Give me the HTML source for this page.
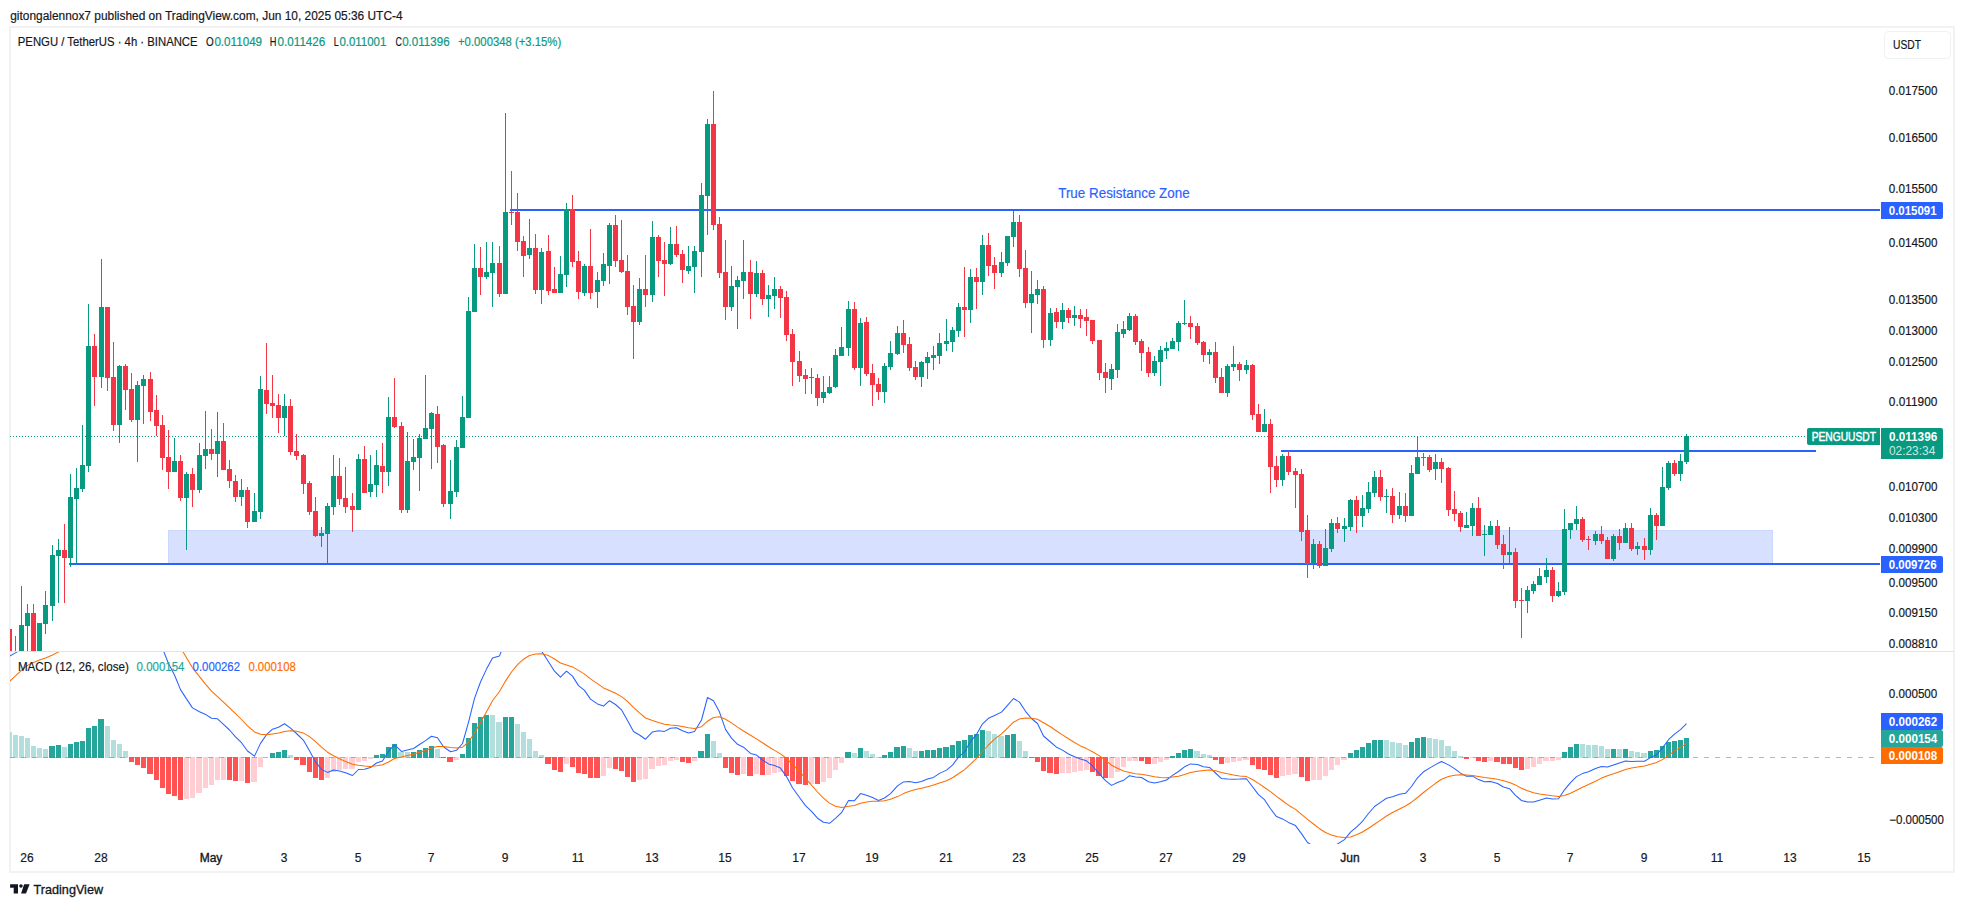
<!DOCTYPE html><html><head><meta charset="utf-8"><title>PENGU chart</title>
<style>html,body{margin:0;padding:0;background:#fff}body{width:1964px;height:907px;overflow:hidden}svg{display:block}text{font-family:"Liberation Sans",sans-serif}</style></head><body>
<svg width="1964" height="907" viewBox="0 0 1964 907">
<defs><clipPath id="p1"><rect x="10" y="28" width="1871" height="623"/></clipPath><clipPath id="p2"><rect x="10" y="652" width="1871" height="192"/></clipPath></defs>
<rect width="1964" height="907" fill="#fff"/>
<g shape-rendering="crispEdges" fill="#f2f2f4">
<rect x="9" y="26" width="1946" height="2"/>
<rect x="9" y="26" width="2" height="847"/>
<rect x="1953" y="26" width="2" height="847"/>
<rect x="9" y="871" width="1946" height="2"/>
</g>
<rect x="10" y="651" width="1944" height="1" fill="#e0e3eb" shape-rendering="crispEdges"/>
<g clip-path="url(#p1)">
<rect x="168" y="530" width="1605" height="34" fill="#2962ff" fill-opacity="0.19" shape-rendering="crispEdges"/>
<rect x="168.5" y="530.5" width="1604" height="33" fill="none" stroke="#2962ff" stroke-opacity="0.08" shape-rendering="crispEdges"/>
<line x1="10" y1="436.5" x2="1807" y2="436.5" stroke="#089981" stroke-width="1" stroke-dasharray="1 2" shape-rendering="crispEdges"/>
<g fill="#2962ff" shape-rendering="crispEdges">
<rect x="510" y="209" width="1370" height="2"/>
<rect x="69" y="563" width="1811" height="2"/>
<rect x="1281" y="450" width="535" height="2"/>
</g>
<g shape-rendering="crispEdges">
<rect x="10" y="629" width="2" height="31" fill="#f23645"/>
<rect x="15" y="636" width="1" height="24" fill="#f23645"/>
<rect x="21" y="586" width="1" height="74" fill="#089981"/>
<rect x="19" y="625" width="5" height="35" fill="#089981"/>
<rect x="27" y="604" width="1" height="47" fill="#089981"/>
<rect x="25" y="613" width="5" height="13" fill="#089981"/>
<rect x="33" y="604" width="1" height="56" fill="#f23645"/>
<rect x="31" y="613" width="5" height="47" fill="#f23645"/>
<rect x="39" y="623" width="1" height="37" fill="#089981"/>
<rect x="37" y="623" width="5" height="37" fill="#089981"/>
<rect x="45" y="591" width="1" height="43" fill="#089981"/>
<rect x="43" y="605" width="5" height="19" fill="#089981"/>
<rect x="52" y="545" width="1" height="76" fill="#089981"/>
<rect x="50" y="555" width="5" height="51" fill="#089981"/>
<rect x="58" y="539" width="1" height="64" fill="#089981"/>
<rect x="56" y="550" width="5" height="6" fill="#089981"/>
<rect x="64" y="524" width="1" height="79" fill="#f23645"/>
<rect x="62" y="550" width="5" height="8" fill="#f23645"/>
<rect x="70" y="474" width="1" height="93" fill="#089981"/>
<rect x="68" y="497" width="5" height="61" fill="#089981"/>
<rect x="76" y="468" width="1" height="95" fill="#089981"/>
<rect x="74" y="488" width="5" height="11" fill="#089981"/>
<rect x="82" y="425" width="1" height="67" fill="#089981"/>
<rect x="80" y="465" width="5" height="24" fill="#089981"/>
<rect x="88" y="304" width="1" height="168" fill="#089981"/>
<rect x="86" y="346" width="5" height="120" fill="#089981"/>
<rect x="94" y="334" width="1" height="72" fill="#f23645"/>
<rect x="92" y="346" width="5" height="31" fill="#f23645"/>
<rect x="101" y="259" width="1" height="129" fill="#089981"/>
<rect x="99" y="307" width="5" height="70" fill="#089981"/>
<rect x="107" y="307" width="1" height="84" fill="#f23645"/>
<rect x="105" y="307" width="5" height="71" fill="#f23645"/>
<rect x="113" y="342" width="1" height="89" fill="#f23645"/>
<rect x="111" y="377" width="5" height="48" fill="#f23645"/>
<rect x="119" y="365" width="1" height="78" fill="#089981"/>
<rect x="117" y="366" width="5" height="59" fill="#089981"/>
<rect x="125" y="364" width="1" height="46" fill="#f23645"/>
<rect x="123" y="366" width="5" height="24" fill="#f23645"/>
<rect x="131" y="373" width="1" height="49" fill="#f23645"/>
<rect x="129" y="389" width="5" height="31" fill="#f23645"/>
<rect x="137" y="381" width="1" height="81" fill="#089981"/>
<rect x="135" y="385" width="5" height="35" fill="#089981"/>
<rect x="143" y="375" width="1" height="49" fill="#089981"/>
<rect x="141" y="379" width="5" height="7" fill="#089981"/>
<rect x="150" y="372" width="1" height="49" fill="#f23645"/>
<rect x="148" y="379" width="5" height="33" fill="#f23645"/>
<rect x="156" y="395" width="1" height="41" fill="#f23645"/>
<rect x="154" y="410" width="5" height="16" fill="#f23645"/>
<rect x="162" y="415" width="1" height="55" fill="#f23645"/>
<rect x="160" y="425" width="5" height="33" fill="#f23645"/>
<rect x="168" y="430" width="1" height="59" fill="#f23645"/>
<rect x="166" y="457" width="5" height="15" fill="#f23645"/>
<rect x="174" y="438" width="1" height="34" fill="#089981"/>
<rect x="172" y="461" width="5" height="11" fill="#089981"/>
<rect x="180" y="455" width="1" height="46" fill="#f23645"/>
<rect x="178" y="461" width="5" height="37" fill="#f23645"/>
<rect x="186" y="472" width="1" height="78" fill="#089981"/>
<rect x="184" y="474" width="5" height="24" fill="#089981"/>
<rect x="192" y="468" width="1" height="39" fill="#f23645"/>
<rect x="190" y="474" width="5" height="16" fill="#f23645"/>
<rect x="199" y="443" width="1" height="50" fill="#089981"/>
<rect x="197" y="455" width="5" height="35" fill="#089981"/>
<rect x="205" y="411" width="1" height="58" fill="#089981"/>
<rect x="203" y="449" width="5" height="7" fill="#089981"/>
<rect x="211" y="429" width="1" height="31" fill="#f23645"/>
<rect x="209" y="449" width="5" height="5" fill="#f23645"/>
<rect x="217" y="412" width="1" height="65" fill="#089981"/>
<rect x="215" y="441" width="5" height="13" fill="#089981"/>
<rect x="223" y="423" width="1" height="47" fill="#f23645"/>
<rect x="221" y="441" width="5" height="29" fill="#f23645"/>
<rect x="229" y="460" width="1" height="28" fill="#f23645"/>
<rect x="227" y="469" width="5" height="12" fill="#f23645"/>
<rect x="235" y="475" width="1" height="27" fill="#f23645"/>
<rect x="233" y="481" width="5" height="16" fill="#f23645"/>
<rect x="241" y="479" width="1" height="27" fill="#089981"/>
<rect x="239" y="490" width="5" height="7" fill="#089981"/>
<rect x="247" y="487" width="1" height="41" fill="#f23645"/>
<rect x="245" y="490" width="5" height="32" fill="#f23645"/>
<rect x="254" y="493" width="1" height="29" fill="#089981"/>
<rect x="252" y="511" width="5" height="11" fill="#089981"/>
<rect x="260" y="376" width="1" height="143" fill="#089981"/>
<rect x="258" y="389" width="5" height="123" fill="#089981"/>
<rect x="266" y="343" width="1" height="71" fill="#f23645"/>
<rect x="264" y="390" width="5" height="14" fill="#f23645"/>
<rect x="272" y="375" width="1" height="43" fill="#f23645"/>
<rect x="270" y="403" width="5" height="3" fill="#f23645"/>
<rect x="278" y="394" width="1" height="39" fill="#f23645"/>
<rect x="276" y="405" width="5" height="13" fill="#f23645"/>
<rect x="284" y="394" width="1" height="42" fill="#089981"/>
<rect x="282" y="406" width="5" height="12" fill="#089981"/>
<rect x="290" y="399" width="1" height="56" fill="#f23645"/>
<rect x="288" y="406" width="5" height="46" fill="#f23645"/>
<rect x="296" y="434" width="1" height="26" fill="#f23645"/>
<rect x="294" y="451" width="5" height="5" fill="#f23645"/>
<rect x="303" y="454" width="1" height="40" fill="#f23645"/>
<rect x="301" y="455" width="5" height="29" fill="#f23645"/>
<rect x="309" y="481" width="1" height="34" fill="#f23645"/>
<rect x="307" y="483" width="5" height="29" fill="#f23645"/>
<rect x="315" y="497" width="1" height="40" fill="#f23645"/>
<rect x="313" y="511" width="5" height="25" fill="#f23645"/>
<rect x="321" y="527" width="1" height="20" fill="#089981"/>
<rect x="319" y="533" width="5" height="3" fill="#089981"/>
<rect x="327" y="503" width="1" height="60" fill="#089981"/>
<rect x="325" y="506" width="5" height="28" fill="#089981"/>
<rect x="333" y="455" width="1" height="60" fill="#089981"/>
<rect x="331" y="476" width="5" height="31" fill="#089981"/>
<rect x="339" y="458" width="1" height="47" fill="#f23645"/>
<rect x="337" y="476" width="5" height="23" fill="#f23645"/>
<rect x="345" y="467" width="1" height="46" fill="#f23645"/>
<rect x="343" y="498" width="5" height="9" fill="#f23645"/>
<rect x="352" y="493" width="1" height="39" fill="#f23645"/>
<rect x="350" y="506" width="5" height="4" fill="#f23645"/>
<rect x="358" y="454" width="1" height="56" fill="#089981"/>
<rect x="356" y="459" width="5" height="51" fill="#089981"/>
<rect x="364" y="446" width="1" height="47" fill="#f23645"/>
<rect x="362" y="459" width="5" height="34" fill="#f23645"/>
<rect x="370" y="455" width="1" height="42" fill="#089981"/>
<rect x="368" y="484" width="5" height="8" fill="#089981"/>
<rect x="376" y="450" width="1" height="47" fill="#089981"/>
<rect x="374" y="465" width="5" height="20" fill="#089981"/>
<rect x="382" y="443" width="1" height="50" fill="#f23645"/>
<rect x="380" y="466" width="5" height="6" fill="#f23645"/>
<rect x="388" y="397" width="1" height="89" fill="#089981"/>
<rect x="386" y="417" width="5" height="55" fill="#089981"/>
<rect x="394" y="378" width="1" height="50" fill="#f23645"/>
<rect x="392" y="417" width="5" height="10" fill="#f23645"/>
<rect x="401" y="422" width="1" height="91" fill="#f23645"/>
<rect x="399" y="426" width="5" height="84" fill="#f23645"/>
<rect x="407" y="432" width="1" height="81" fill="#089981"/>
<rect x="405" y="461" width="5" height="49" fill="#089981"/>
<rect x="413" y="439" width="1" height="31" fill="#089981"/>
<rect x="411" y="457" width="5" height="5" fill="#089981"/>
<rect x="419" y="434" width="1" height="57" fill="#089981"/>
<rect x="417" y="438" width="5" height="20" fill="#089981"/>
<rect x="425" y="375" width="1" height="64" fill="#089981"/>
<rect x="423" y="428" width="5" height="11" fill="#089981"/>
<rect x="431" y="412" width="1" height="57" fill="#089981"/>
<rect x="429" y="413" width="5" height="16" fill="#089981"/>
<rect x="437" y="406" width="1" height="57" fill="#f23645"/>
<rect x="435" y="414" width="5" height="33" fill="#f23645"/>
<rect x="443" y="444" width="1" height="63" fill="#f23645"/>
<rect x="441" y="445" width="5" height="59" fill="#f23645"/>
<rect x="450" y="460" width="1" height="59" fill="#089981"/>
<rect x="448" y="491" width="5" height="13" fill="#089981"/>
<rect x="456" y="440" width="1" height="57" fill="#089981"/>
<rect x="454" y="447" width="5" height="45" fill="#089981"/>
<rect x="462" y="396" width="1" height="52" fill="#089981"/>
<rect x="460" y="417" width="5" height="31" fill="#089981"/>
<rect x="468" y="297" width="1" height="121" fill="#089981"/>
<rect x="466" y="311" width="5" height="107" fill="#089981"/>
<rect x="474" y="244" width="1" height="68" fill="#089981"/>
<rect x="472" y="268" width="5" height="44" fill="#089981"/>
<rect x="480" y="247" width="1" height="48" fill="#f23645"/>
<rect x="478" y="268" width="5" height="9" fill="#f23645"/>
<rect x="486" y="242" width="1" height="37" fill="#089981"/>
<rect x="484" y="272" width="5" height="5" fill="#089981"/>
<rect x="492" y="242" width="1" height="65" fill="#089981"/>
<rect x="490" y="263" width="5" height="10" fill="#089981"/>
<rect x="499" y="246" width="1" height="51" fill="#f23645"/>
<rect x="497" y="263" width="5" height="31" fill="#f23645"/>
<rect x="505" y="113" width="1" height="181" fill="#089981"/>
<rect x="503" y="212" width="5" height="82" fill="#089981"/>
<rect x="511" y="171" width="1" height="54" fill="#f23645"/>
<rect x="509" y="212" width="5" height="1" fill="#f23645"/>
<rect x="517" y="193" width="1" height="58" fill="#f23645"/>
<rect x="515" y="212" width="5" height="30" fill="#f23645"/>
<rect x="523" y="236" width="1" height="41" fill="#f23645"/>
<rect x="521" y="241" width="5" height="15" fill="#f23645"/>
<rect x="529" y="219" width="1" height="40" fill="#089981"/>
<rect x="527" y="248" width="5" height="7" fill="#089981"/>
<rect x="535" y="234" width="1" height="60" fill="#f23645"/>
<rect x="533" y="248" width="5" height="42" fill="#f23645"/>
<rect x="541" y="248" width="1" height="56" fill="#089981"/>
<rect x="539" y="252" width="5" height="38" fill="#089981"/>
<rect x="548" y="235" width="1" height="60" fill="#f23645"/>
<rect x="546" y="251" width="5" height="40" fill="#f23645"/>
<rect x="554" y="267" width="1" height="26" fill="#f23645"/>
<rect x="552" y="289" width="5" height="4" fill="#f23645"/>
<rect x="560" y="256" width="1" height="37" fill="#089981"/>
<rect x="558" y="274" width="5" height="19" fill="#089981"/>
<rect x="566" y="203" width="1" height="84" fill="#089981"/>
<rect x="564" y="209" width="5" height="66" fill="#089981"/>
<rect x="572" y="195" width="1" height="72" fill="#f23645"/>
<rect x="570" y="209" width="5" height="53" fill="#f23645"/>
<rect x="578" y="251" width="1" height="48" fill="#f23645"/>
<rect x="576" y="261" width="5" height="31" fill="#f23645"/>
<rect x="584" y="264" width="1" height="32" fill="#089981"/>
<rect x="582" y="266" width="5" height="27" fill="#089981"/>
<rect x="590" y="229" width="1" height="70" fill="#f23645"/>
<rect x="588" y="266" width="5" height="27" fill="#f23645"/>
<rect x="597" y="272" width="1" height="36" fill="#089981"/>
<rect x="595" y="280" width="5" height="12" fill="#089981"/>
<rect x="603" y="253" width="1" height="33" fill="#089981"/>
<rect x="601" y="264" width="5" height="17" fill="#089981"/>
<rect x="609" y="223" width="1" height="61" fill="#089981"/>
<rect x="607" y="225" width="5" height="41" fill="#089981"/>
<rect x="615" y="215" width="1" height="52" fill="#f23645"/>
<rect x="613" y="225" width="5" height="36" fill="#f23645"/>
<rect x="621" y="220" width="1" height="53" fill="#f23645"/>
<rect x="619" y="260" width="5" height="12" fill="#f23645"/>
<rect x="627" y="255" width="1" height="60" fill="#f23645"/>
<rect x="625" y="271" width="5" height="36" fill="#f23645"/>
<rect x="633" y="285" width="1" height="74" fill="#f23645"/>
<rect x="631" y="306" width="5" height="16" fill="#f23645"/>
<rect x="639" y="278" width="1" height="47" fill="#089981"/>
<rect x="637" y="289" width="5" height="33" fill="#089981"/>
<rect x="645" y="255" width="1" height="52" fill="#f23645"/>
<rect x="643" y="289" width="5" height="6" fill="#f23645"/>
<rect x="652" y="221" width="1" height="81" fill="#089981"/>
<rect x="650" y="237" width="5" height="58" fill="#089981"/>
<rect x="658" y="235" width="1" height="42" fill="#f23645"/>
<rect x="656" y="237" width="5" height="24" fill="#f23645"/>
<rect x="664" y="242" width="1" height="54" fill="#f23645"/>
<rect x="662" y="260" width="5" height="4" fill="#f23645"/>
<rect x="670" y="227" width="1" height="38" fill="#089981"/>
<rect x="668" y="244" width="5" height="20" fill="#089981"/>
<rect x="676" y="226" width="1" height="31" fill="#f23645"/>
<rect x="674" y="244" width="5" height="11" fill="#f23645"/>
<rect x="682" y="250" width="1" height="33" fill="#f23645"/>
<rect x="680" y="254" width="5" height="16" fill="#f23645"/>
<rect x="688" y="246" width="1" height="28" fill="#089981"/>
<rect x="686" y="266" width="5" height="5" fill="#089981"/>
<rect x="694" y="246" width="1" height="47" fill="#089981"/>
<rect x="692" y="251" width="5" height="16" fill="#089981"/>
<rect x="701" y="183" width="1" height="94" fill="#089981"/>
<rect x="699" y="195" width="5" height="57" fill="#089981"/>
<rect x="707" y="119" width="1" height="116" fill="#089981"/>
<rect x="705" y="124" width="5" height="72" fill="#089981"/>
<rect x="713" y="91" width="1" height="139" fill="#f23645"/>
<rect x="711" y="124" width="5" height="101" fill="#f23645"/>
<rect x="719" y="217" width="1" height="61" fill="#f23645"/>
<rect x="717" y="224" width="5" height="49" fill="#f23645"/>
<rect x="725" y="240" width="1" height="80" fill="#f23645"/>
<rect x="723" y="272" width="5" height="35" fill="#f23645"/>
<rect x="731" y="266" width="1" height="45" fill="#089981"/>
<rect x="729" y="286" width="5" height="21" fill="#089981"/>
<rect x="737" y="276" width="1" height="53" fill="#089981"/>
<rect x="735" y="280" width="5" height="7" fill="#089981"/>
<rect x="743" y="240" width="1" height="59" fill="#089981"/>
<rect x="741" y="272" width="5" height="9" fill="#089981"/>
<rect x="750" y="260" width="1" height="59" fill="#f23645"/>
<rect x="748" y="272" width="5" height="22" fill="#f23645"/>
<rect x="756" y="261" width="1" height="36" fill="#089981"/>
<rect x="754" y="273" width="5" height="21" fill="#089981"/>
<rect x="762" y="270" width="1" height="35" fill="#f23645"/>
<rect x="760" y="273" width="5" height="26" fill="#f23645"/>
<rect x="768" y="285" width="1" height="32" fill="#089981"/>
<rect x="766" y="295" width="5" height="4" fill="#089981"/>
<rect x="774" y="277" width="1" height="32" fill="#089981"/>
<rect x="772" y="289" width="5" height="7" fill="#089981"/>
<rect x="780" y="286" width="1" height="32" fill="#f23645"/>
<rect x="778" y="289" width="5" height="9" fill="#f23645"/>
<rect x="786" y="291" width="1" height="50" fill="#f23645"/>
<rect x="784" y="297" width="5" height="38" fill="#f23645"/>
<rect x="792" y="329" width="1" height="57" fill="#f23645"/>
<rect x="790" y="334" width="5" height="28" fill="#f23645"/>
<rect x="799" y="351" width="1" height="31" fill="#f23645"/>
<rect x="797" y="361" width="5" height="15" fill="#f23645"/>
<rect x="805" y="369" width="1" height="25" fill="#f23645"/>
<rect x="803" y="375" width="5" height="4" fill="#f23645"/>
<rect x="811" y="368" width="1" height="26" fill="#089981"/>
<rect x="809" y="377" width="5" height="1" fill="#089981"/>
<rect x="817" y="374" width="1" height="32" fill="#f23645"/>
<rect x="815" y="378" width="5" height="20" fill="#f23645"/>
<rect x="823" y="376" width="1" height="27" fill="#089981"/>
<rect x="821" y="392" width="5" height="6" fill="#089981"/>
<rect x="829" y="376" width="1" height="18" fill="#089981"/>
<rect x="827" y="387" width="5" height="6" fill="#089981"/>
<rect x="835" y="349" width="1" height="39" fill="#089981"/>
<rect x="833" y="355" width="5" height="32" fill="#089981"/>
<rect x="841" y="327" width="1" height="29" fill="#089981"/>
<rect x="839" y="347" width="5" height="9" fill="#089981"/>
<rect x="848" y="301" width="1" height="55" fill="#089981"/>
<rect x="846" y="309" width="5" height="39" fill="#089981"/>
<rect x="854" y="302" width="1" height="68" fill="#f23645"/>
<rect x="852" y="309" width="5" height="59" fill="#f23645"/>
<rect x="860" y="318" width="1" height="68" fill="#089981"/>
<rect x="858" y="323" width="5" height="45" fill="#089981"/>
<rect x="866" y="317" width="1" height="59" fill="#f23645"/>
<rect x="864" y="322" width="5" height="52" fill="#f23645"/>
<rect x="872" y="364" width="1" height="42" fill="#f23645"/>
<rect x="870" y="373" width="5" height="12" fill="#f23645"/>
<rect x="878" y="378" width="1" height="22" fill="#f23645"/>
<rect x="876" y="384" width="5" height="8" fill="#f23645"/>
<rect x="884" y="363" width="1" height="40" fill="#089981"/>
<rect x="882" y="366" width="5" height="26" fill="#089981"/>
<rect x="890" y="341" width="1" height="29" fill="#089981"/>
<rect x="888" y="353" width="5" height="14" fill="#089981"/>
<rect x="897" y="326" width="1" height="29" fill="#089981"/>
<rect x="895" y="333" width="5" height="21" fill="#089981"/>
<rect x="903" y="320" width="1" height="33" fill="#f23645"/>
<rect x="901" y="333" width="5" height="12" fill="#f23645"/>
<rect x="909" y="337" width="1" height="34" fill="#f23645"/>
<rect x="907" y="344" width="5" height="24" fill="#f23645"/>
<rect x="915" y="361" width="1" height="19" fill="#f23645"/>
<rect x="913" y="367" width="5" height="10" fill="#f23645"/>
<rect x="921" y="361" width="1" height="26" fill="#089981"/>
<rect x="919" y="362" width="5" height="15" fill="#089981"/>
<rect x="927" y="352" width="1" height="27" fill="#089981"/>
<rect x="925" y="357" width="5" height="6" fill="#089981"/>
<rect x="933" y="346" width="1" height="24" fill="#089981"/>
<rect x="931" y="355" width="5" height="3" fill="#089981"/>
<rect x="939" y="333" width="1" height="31" fill="#089981"/>
<rect x="937" y="343" width="5" height="13" fill="#089981"/>
<rect x="946" y="319" width="1" height="32" fill="#089981"/>
<rect x="944" y="341" width="5" height="3" fill="#089981"/>
<rect x="952" y="327" width="1" height="25" fill="#089981"/>
<rect x="950" y="330" width="5" height="12" fill="#089981"/>
<rect x="958" y="303" width="1" height="34" fill="#089981"/>
<rect x="956" y="307" width="5" height="24" fill="#089981"/>
<rect x="964" y="267" width="1" height="70" fill="#f23645"/>
<rect x="962" y="307" width="5" height="3" fill="#f23645"/>
<rect x="970" y="269" width="1" height="54" fill="#089981"/>
<rect x="968" y="277" width="5" height="33" fill="#089981"/>
<rect x="976" y="268" width="1" height="41" fill="#f23645"/>
<rect x="974" y="277" width="5" height="5" fill="#f23645"/>
<rect x="982" y="235" width="1" height="60" fill="#089981"/>
<rect x="980" y="245" width="5" height="37" fill="#089981"/>
<rect x="988" y="233" width="1" height="43" fill="#f23645"/>
<rect x="986" y="245" width="5" height="21" fill="#f23645"/>
<rect x="994" y="257" width="1" height="32" fill="#f23645"/>
<rect x="992" y="265" width="5" height="8" fill="#f23645"/>
<rect x="1001" y="252" width="1" height="25" fill="#089981"/>
<rect x="999" y="262" width="5" height="11" fill="#089981"/>
<rect x="1007" y="236" width="1" height="30" fill="#089981"/>
<rect x="1005" y="236" width="5" height="27" fill="#089981"/>
<rect x="1013" y="211" width="1" height="36" fill="#089981"/>
<rect x="1011" y="222" width="5" height="15" fill="#089981"/>
<rect x="1019" y="215" width="1" height="62" fill="#f23645"/>
<rect x="1017" y="222" width="5" height="47" fill="#f23645"/>
<rect x="1025" y="250" width="1" height="58" fill="#f23645"/>
<rect x="1023" y="268" width="5" height="35" fill="#f23645"/>
<rect x="1031" y="271" width="1" height="62" fill="#089981"/>
<rect x="1029" y="294" width="5" height="9" fill="#089981"/>
<rect x="1037" y="280" width="1" height="24" fill="#089981"/>
<rect x="1035" y="289" width="5" height="6" fill="#089981"/>
<rect x="1043" y="286" width="1" height="62" fill="#f23645"/>
<rect x="1041" y="289" width="5" height="51" fill="#f23645"/>
<rect x="1050" y="308" width="1" height="38" fill="#089981"/>
<rect x="1048" y="313" width="5" height="27" fill="#089981"/>
<rect x="1056" y="308" width="1" height="20" fill="#f23645"/>
<rect x="1054" y="312" width="5" height="10" fill="#f23645"/>
<rect x="1062" y="303" width="1" height="26" fill="#089981"/>
<rect x="1060" y="310" width="5" height="12" fill="#089981"/>
<rect x="1068" y="308" width="1" height="15" fill="#f23645"/>
<rect x="1066" y="310" width="5" height="8" fill="#f23645"/>
<rect x="1074" y="306" width="1" height="20" fill="#089981"/>
<rect x="1072" y="315" width="5" height="3" fill="#089981"/>
<rect x="1080" y="309" width="1" height="19" fill="#f23645"/>
<rect x="1078" y="315" width="5" height="4" fill="#f23645"/>
<rect x="1086" y="309" width="1" height="27" fill="#f23645"/>
<rect x="1084" y="317" width="5" height="4" fill="#f23645"/>
<rect x="1092" y="320" width="1" height="24" fill="#f23645"/>
<rect x="1090" y="320" width="5" height="21" fill="#f23645"/>
<rect x="1099" y="340" width="1" height="40" fill="#f23645"/>
<rect x="1097" y="340" width="5" height="33" fill="#f23645"/>
<rect x="1105" y="363" width="1" height="30" fill="#f23645"/>
<rect x="1103" y="372" width="5" height="6" fill="#f23645"/>
<rect x="1111" y="364" width="1" height="26" fill="#089981"/>
<rect x="1109" y="369" width="5" height="10" fill="#089981"/>
<rect x="1117" y="324" width="1" height="54" fill="#089981"/>
<rect x="1115" y="332" width="5" height="38" fill="#089981"/>
<rect x="1123" y="321" width="1" height="17" fill="#089981"/>
<rect x="1121" y="329" width="5" height="5" fill="#089981"/>
<rect x="1129" y="313" width="1" height="18" fill="#089981"/>
<rect x="1127" y="316" width="5" height="14" fill="#089981"/>
<rect x="1135" y="314" width="1" height="31" fill="#f23645"/>
<rect x="1133" y="316" width="5" height="26" fill="#f23645"/>
<rect x="1141" y="339" width="1" height="32" fill="#f23645"/>
<rect x="1139" y="341" width="5" height="12" fill="#f23645"/>
<rect x="1148" y="347" width="1" height="30" fill="#f23645"/>
<rect x="1146" y="352" width="5" height="21" fill="#f23645"/>
<rect x="1154" y="356" width="1" height="20" fill="#089981"/>
<rect x="1152" y="361" width="5" height="12" fill="#089981"/>
<rect x="1160" y="346" width="1" height="40" fill="#089981"/>
<rect x="1158" y="350" width="5" height="12" fill="#089981"/>
<rect x="1166" y="342" width="1" height="17" fill="#089981"/>
<rect x="1164" y="348" width="5" height="3" fill="#089981"/>
<rect x="1172" y="338" width="1" height="11" fill="#089981"/>
<rect x="1170" y="341" width="5" height="8" fill="#089981"/>
<rect x="1178" y="321" width="1" height="30" fill="#089981"/>
<rect x="1176" y="323" width="5" height="19" fill="#089981"/>
<rect x="1184" y="300" width="1" height="25" fill="#089981"/>
<rect x="1182" y="323" width="5" height="1" fill="#089981"/>
<rect x="1190" y="316" width="1" height="23" fill="#f23645"/>
<rect x="1188" y="323" width="5" height="4" fill="#f23645"/>
<rect x="1197" y="323" width="1" height="22" fill="#f23645"/>
<rect x="1195" y="326" width="5" height="17" fill="#f23645"/>
<rect x="1203" y="341" width="1" height="21" fill="#f23645"/>
<rect x="1201" y="342" width="5" height="13" fill="#f23645"/>
<rect x="1209" y="349" width="1" height="15" fill="#089981"/>
<rect x="1207" y="352" width="5" height="3" fill="#089981"/>
<rect x="1215" y="342" width="1" height="41" fill="#f23645"/>
<rect x="1213" y="352" width="5" height="26" fill="#f23645"/>
<rect x="1221" y="368" width="1" height="25" fill="#f23645"/>
<rect x="1219" y="377" width="5" height="16" fill="#f23645"/>
<rect x="1227" y="364" width="1" height="33" fill="#089981"/>
<rect x="1225" y="366" width="5" height="27" fill="#089981"/>
<rect x="1233" y="346" width="1" height="25" fill="#089981"/>
<rect x="1231" y="364" width="5" height="3" fill="#089981"/>
<rect x="1239" y="362" width="1" height="19" fill="#f23645"/>
<rect x="1237" y="364" width="5" height="6" fill="#f23645"/>
<rect x="1246" y="360" width="1" height="14" fill="#089981"/>
<rect x="1244" y="365" width="5" height="5" fill="#089981"/>
<rect x="1252" y="364" width="1" height="56" fill="#f23645"/>
<rect x="1250" y="365" width="5" height="50" fill="#f23645"/>
<rect x="1258" y="404" width="1" height="28" fill="#f23645"/>
<rect x="1256" y="414" width="5" height="18" fill="#f23645"/>
<rect x="1264" y="409" width="1" height="23" fill="#089981"/>
<rect x="1262" y="424" width="5" height="8" fill="#089981"/>
<rect x="1270" y="419" width="1" height="74" fill="#f23645"/>
<rect x="1268" y="424" width="5" height="43" fill="#f23645"/>
<rect x="1276" y="456" width="1" height="31" fill="#f23645"/>
<rect x="1274" y="466" width="5" height="14" fill="#f23645"/>
<rect x="1282" y="454" width="1" height="32" fill="#089981"/>
<rect x="1280" y="456" width="5" height="24" fill="#089981"/>
<rect x="1288" y="451" width="1" height="24" fill="#f23645"/>
<rect x="1286" y="456" width="5" height="16" fill="#f23645"/>
<rect x="1295" y="468" width="1" height="40" fill="#f23645"/>
<rect x="1293" y="471" width="5" height="4" fill="#f23645"/>
<rect x="1301" y="469" width="1" height="72" fill="#f23645"/>
<rect x="1299" y="474" width="5" height="58" fill="#f23645"/>
<rect x="1307" y="515" width="1" height="63" fill="#f23645"/>
<rect x="1305" y="530" width="5" height="34" fill="#f23645"/>
<rect x="1313" y="539" width="1" height="30" fill="#089981"/>
<rect x="1311" y="544" width="5" height="20" fill="#089981"/>
<rect x="1319" y="541" width="1" height="27" fill="#f23645"/>
<rect x="1317" y="544" width="5" height="22" fill="#f23645"/>
<rect x="1325" y="529" width="1" height="37" fill="#089981"/>
<rect x="1323" y="548" width="5" height="18" fill="#089981"/>
<rect x="1331" y="519" width="1" height="33" fill="#089981"/>
<rect x="1329" y="523" width="5" height="26" fill="#089981"/>
<rect x="1337" y="517" width="1" height="16" fill="#f23645"/>
<rect x="1335" y="523" width="5" height="6" fill="#f23645"/>
<rect x="1344" y="518" width="1" height="24" fill="#089981"/>
<rect x="1342" y="526" width="5" height="3" fill="#089981"/>
<rect x="1350" y="499" width="1" height="32" fill="#089981"/>
<rect x="1348" y="500" width="5" height="27" fill="#089981"/>
<rect x="1356" y="496" width="1" height="37" fill="#f23645"/>
<rect x="1354" y="500" width="5" height="16" fill="#f23645"/>
<rect x="1362" y="495" width="1" height="32" fill="#089981"/>
<rect x="1360" y="508" width="5" height="8" fill="#089981"/>
<rect x="1368" y="482" width="1" height="31" fill="#089981"/>
<rect x="1366" y="492" width="5" height="17" fill="#089981"/>
<rect x="1374" y="471" width="1" height="26" fill="#089981"/>
<rect x="1372" y="477" width="5" height="16" fill="#089981"/>
<rect x="1380" y="470" width="1" height="31" fill="#f23645"/>
<rect x="1378" y="477" width="5" height="20" fill="#f23645"/>
<rect x="1386" y="489" width="1" height="24" fill="#089981"/>
<rect x="1384" y="496" width="5" height="1" fill="#089981"/>
<rect x="1392" y="488" width="1" height="35" fill="#f23645"/>
<rect x="1390" y="496" width="5" height="19" fill="#f23645"/>
<rect x="1399" y="492" width="1" height="27" fill="#089981"/>
<rect x="1397" y="506" width="5" height="9" fill="#089981"/>
<rect x="1405" y="493" width="1" height="29" fill="#f23645"/>
<rect x="1403" y="506" width="5" height="10" fill="#f23645"/>
<rect x="1411" y="465" width="1" height="51" fill="#089981"/>
<rect x="1409" y="473" width="5" height="43" fill="#089981"/>
<rect x="1417" y="436" width="1" height="38" fill="#089981"/>
<rect x="1415" y="457" width="5" height="17" fill="#089981"/>
<rect x="1423" y="453" width="1" height="13" fill="#f23645"/>
<rect x="1421" y="457" width="5" height="1" fill="#f23645"/>
<rect x="1429" y="455" width="1" height="17" fill="#f23645"/>
<rect x="1427" y="457" width="5" height="13" fill="#f23645"/>
<rect x="1435" y="454" width="1" height="26" fill="#089981"/>
<rect x="1433" y="462" width="5" height="7" fill="#089981"/>
<rect x="1441" y="458" width="1" height="25" fill="#f23645"/>
<rect x="1439" y="462" width="5" height="7" fill="#f23645"/>
<rect x="1448" y="467" width="1" height="49" fill="#f23645"/>
<rect x="1446" y="468" width="5" height="42" fill="#f23645"/>
<rect x="1454" y="491" width="1" height="30" fill="#f23645"/>
<rect x="1452" y="509" width="5" height="5" fill="#f23645"/>
<rect x="1460" y="511" width="1" height="21" fill="#f23645"/>
<rect x="1458" y="513" width="5" height="14" fill="#f23645"/>
<rect x="1466" y="512" width="1" height="16" fill="#089981"/>
<rect x="1464" y="525" width="5" height="3" fill="#089981"/>
<rect x="1472" y="503" width="1" height="33" fill="#089981"/>
<rect x="1470" y="508" width="5" height="18" fill="#089981"/>
<rect x="1478" y="497" width="1" height="39" fill="#f23645"/>
<rect x="1476" y="508" width="5" height="28" fill="#f23645"/>
<rect x="1484" y="525" width="1" height="31" fill="#089981"/>
<rect x="1482" y="534" width="5" height="1" fill="#089981"/>
<rect x="1490" y="521" width="1" height="14" fill="#089981"/>
<rect x="1488" y="526" width="5" height="9" fill="#089981"/>
<rect x="1497" y="520" width="1" height="29" fill="#f23645"/>
<rect x="1495" y="526" width="5" height="19" fill="#f23645"/>
<rect x="1503" y="535" width="1" height="34" fill="#f23645"/>
<rect x="1501" y="544" width="5" height="11" fill="#f23645"/>
<rect x="1509" y="527" width="1" height="36" fill="#089981"/>
<rect x="1507" y="552" width="5" height="3" fill="#089981"/>
<rect x="1515" y="548" width="1" height="60" fill="#f23645"/>
<rect x="1513" y="552" width="5" height="49" fill="#f23645"/>
<rect x="1521" y="588" width="1" height="50" fill="#f23645"/>
<rect x="1519" y="600" width="5" height="1" fill="#f23645"/>
<rect x="1527" y="586" width="1" height="27" fill="#089981"/>
<rect x="1525" y="590" width="5" height="11" fill="#089981"/>
<rect x="1533" y="581" width="1" height="13" fill="#089981"/>
<rect x="1531" y="584" width="5" height="7" fill="#089981"/>
<rect x="1539" y="568" width="1" height="17" fill="#089981"/>
<rect x="1537" y="576" width="5" height="9" fill="#089981"/>
<rect x="1546" y="558" width="1" height="25" fill="#089981"/>
<rect x="1544" y="570" width="5" height="7" fill="#089981"/>
<rect x="1552" y="567" width="1" height="35" fill="#f23645"/>
<rect x="1550" y="570" width="5" height="26" fill="#f23645"/>
<rect x="1558" y="582" width="1" height="15" fill="#089981"/>
<rect x="1556" y="591" width="5" height="5" fill="#089981"/>
<rect x="1564" y="509" width="1" height="86" fill="#089981"/>
<rect x="1562" y="529" width="5" height="63" fill="#089981"/>
<rect x="1570" y="523" width="1" height="16" fill="#089981"/>
<rect x="1568" y="523" width="5" height="7" fill="#089981"/>
<rect x="1576" y="506" width="1" height="24" fill="#089981"/>
<rect x="1574" y="519" width="5" height="5" fill="#089981"/>
<rect x="1582" y="517" width="1" height="25" fill="#f23645"/>
<rect x="1580" y="519" width="5" height="21" fill="#f23645"/>
<rect x="1588" y="536" width="1" height="14" fill="#f23645"/>
<rect x="1586" y="539" width="5" height="1" fill="#f23645"/>
<rect x="1595" y="531" width="1" height="14" fill="#089981"/>
<rect x="1593" y="534" width="5" height="7" fill="#089981"/>
<rect x="1601" y="526" width="1" height="18" fill="#f23645"/>
<rect x="1599" y="534" width="5" height="7" fill="#f23645"/>
<rect x="1607" y="537" width="1" height="22" fill="#f23645"/>
<rect x="1605" y="540" width="5" height="19" fill="#f23645"/>
<rect x="1613" y="534" width="1" height="27" fill="#089981"/>
<rect x="1611" y="536" width="5" height="23" fill="#089981"/>
<rect x="1619" y="529" width="1" height="21" fill="#f23645"/>
<rect x="1617" y="536" width="5" height="7" fill="#f23645"/>
<rect x="1625" y="523" width="1" height="20" fill="#089981"/>
<rect x="1623" y="528" width="5" height="15" fill="#089981"/>
<rect x="1631" y="523" width="1" height="28" fill="#f23645"/>
<rect x="1629" y="528" width="5" height="21" fill="#f23645"/>
<rect x="1637" y="542" width="1" height="13" fill="#089981"/>
<rect x="1635" y="546" width="5" height="3" fill="#089981"/>
<rect x="1644" y="538" width="1" height="22" fill="#f23645"/>
<rect x="1642" y="546" width="5" height="4" fill="#f23645"/>
<rect x="1650" y="508" width="1" height="47" fill="#089981"/>
<rect x="1648" y="515" width="5" height="35" fill="#089981"/>
<rect x="1656" y="513" width="1" height="27" fill="#f23645"/>
<rect x="1654" y="515" width="5" height="11" fill="#f23645"/>
<rect x="1662" y="467" width="1" height="59" fill="#089981"/>
<rect x="1660" y="487" width="5" height="39" fill="#089981"/>
<rect x="1668" y="461" width="1" height="29" fill="#089981"/>
<rect x="1666" y="463" width="5" height="25" fill="#089981"/>
<rect x="1674" y="460" width="1" height="16" fill="#f23645"/>
<rect x="1672" y="463" width="5" height="11" fill="#f23645"/>
<rect x="1680" y="454" width="1" height="27" fill="#089981"/>
<rect x="1678" y="461" width="5" height="13" fill="#089981"/>
<rect x="1686" y="434" width="1" height="30" fill="#089981"/>
<rect x="1684" y="436" width="5" height="26" fill="#089981"/>
</g>
</g>
<g clip-path="url(#p2)">
<g shape-rendering="crispEdges">
<rect x="10" y="732" width="2" height="26" fill="#b2dfdb"/>
<rect x="13" y="735" width="5" height="23" fill="#b2dfdb"/>
<rect x="19" y="736" width="5" height="22" fill="#b2dfdb"/>
<rect x="25" y="738" width="5" height="20" fill="#b2dfdb"/>
<rect x="31" y="746" width="5" height="12" fill="#b2dfdb"/>
<rect x="37" y="748" width="5" height="10" fill="#b2dfdb"/>
<rect x="43" y="749" width="5" height="9" fill="#b2dfdb"/>
<rect x="49" y="746" width="6" height="12" fill="#26a69a"/>
<rect x="56" y="745" width="5" height="13" fill="#26a69a"/>
<rect x="62" y="747" width="5" height="11" fill="#b2dfdb"/>
<rect x="68" y="744" width="5" height="14" fill="#26a69a"/>
<rect x="74" y="742" width="5" height="16" fill="#26a69a"/>
<rect x="80" y="741" width="5" height="17" fill="#26a69a"/>
<rect x="86" y="728" width="5" height="30" fill="#26a69a"/>
<rect x="92" y="726" width="5" height="32" fill="#26a69a"/>
<rect x="98" y="719" width="6" height="39" fill="#26a69a"/>
<rect x="105" y="726" width="5" height="32" fill="#b2dfdb"/>
<rect x="111" y="740" width="5" height="18" fill="#b2dfdb"/>
<rect x="117" y="744" width="5" height="14" fill="#b2dfdb"/>
<rect x="123" y="751" width="5" height="7" fill="#b2dfdb"/>
<rect x="129" y="757" width="5" height="5" fill="#ff5252"/>
<rect x="135" y="757" width="5" height="8" fill="#ff5252"/>
<rect x="141" y="757" width="5" height="11" fill="#ff5252"/>
<rect x="147" y="757" width="6" height="17" fill="#ff5252"/>
<rect x="154" y="757" width="5" height="23" fill="#ff5252"/>
<rect x="160" y="757" width="5" height="31" fill="#ff5252"/>
<rect x="166" y="757" width="5" height="37" fill="#ff5252"/>
<rect x="172" y="757" width="5" height="39" fill="#ff5252"/>
<rect x="178" y="757" width="5" height="43" fill="#ff5252"/>
<rect x="184" y="757" width="5" height="42" fill="#ffcdd2"/>
<rect x="190" y="757" width="5" height="41" fill="#ffcdd2"/>
<rect x="196" y="757" width="6" height="36" fill="#ffcdd2"/>
<rect x="203" y="757" width="5" height="31" fill="#ffcdd2"/>
<rect x="209" y="757" width="5" height="28" fill="#ffcdd2"/>
<rect x="215" y="757" width="5" height="23" fill="#ffcdd2"/>
<rect x="221" y="757" width="5" height="23" fill="#ffcdd2"/>
<rect x="227" y="757" width="5" height="23" fill="#ff5252"/>
<rect x="233" y="757" width="5" height="24" fill="#ff5252"/>
<rect x="239" y="757" width="5" height="24" fill="#ffcdd2"/>
<rect x="245" y="757" width="5" height="26" fill="#ff5252"/>
<rect x="251" y="757" width="6" height="25" fill="#ffcdd2"/>
<rect x="258" y="757" width="5" height="10" fill="#ffcdd2"/>
<rect x="270" y="753" width="5" height="5" fill="#26a69a"/>
<rect x="276" y="752" width="5" height="6" fill="#26a69a"/>
<rect x="282" y="750" width="5" height="8" fill="#26a69a"/>
<rect x="288" y="755" width="5" height="3" fill="#b2dfdb"/>
<rect x="294" y="757" width="5" height="3" fill="#ff5252"/>
<rect x="300" y="757" width="6" height="8" fill="#ff5252"/>
<rect x="307" y="757" width="5" height="15" fill="#ff5252"/>
<rect x="313" y="757" width="5" height="21" fill="#ff5252"/>
<rect x="319" y="757" width="5" height="23" fill="#ff5252"/>
<rect x="325" y="757" width="5" height="21" fill="#ffcdd2"/>
<rect x="331" y="757" width="5" height="15" fill="#ffcdd2"/>
<rect x="337" y="757" width="5" height="13" fill="#ffcdd2"/>
<rect x="343" y="757" width="5" height="12" fill="#ffcdd2"/>
<rect x="349" y="757" width="6" height="12" fill="#ffcdd2"/>
<rect x="356" y="757" width="5" height="5" fill="#ffcdd2"/>
<rect x="362" y="757" width="5" height="4" fill="#ffcdd2"/>
<rect x="368" y="757" width="5" height="2" fill="#ffcdd2"/>
<rect x="374" y="755" width="5" height="3" fill="#26a69a"/>
<rect x="380" y="754" width="5" height="4" fill="#26a69a"/>
<rect x="386" y="747" width="5" height="11" fill="#26a69a"/>
<rect x="392" y="744" width="5" height="14" fill="#26a69a"/>
<rect x="398" y="752" width="6" height="6" fill="#b2dfdb"/>
<rect x="405" y="752" width="5" height="6" fill="#b2dfdb"/>
<rect x="411" y="752" width="5" height="6" fill="#26a69a"/>
<rect x="417" y="750" width="5" height="8" fill="#26a69a"/>
<rect x="423" y="748" width="5" height="10" fill="#26a69a"/>
<rect x="429" y="746" width="5" height="12" fill="#26a69a"/>
<rect x="435" y="749" width="5" height="9" fill="#b2dfdb"/>
<rect x="441" y="757" width="5" height="1" fill="#ff5252"/>
<rect x="447" y="757" width="6" height="5" fill="#ff5252"/>
<rect x="454" y="757" width="5" height="3" fill="#ffcdd2"/>
<rect x="460" y="754" width="5" height="4" fill="#26a69a"/>
<rect x="466" y="738" width="5" height="20" fill="#26a69a"/>
<rect x="472" y="723" width="5" height="35" fill="#26a69a"/>
<rect x="478" y="717" width="5" height="41" fill="#26a69a"/>
<rect x="484" y="715" width="5" height="43" fill="#26a69a"/>
<rect x="490" y="715" width="5" height="43" fill="#b2dfdb"/>
<rect x="496" y="722" width="6" height="36" fill="#b2dfdb"/>
<rect x="503" y="717" width="5" height="41" fill="#26a69a"/>
<rect x="509" y="717" width="5" height="41" fill="#26a69a"/>
<rect x="515" y="724" width="5" height="34" fill="#b2dfdb"/>
<rect x="521" y="732" width="5" height="26" fill="#b2dfdb"/>
<rect x="527" y="739" width="5" height="19" fill="#b2dfdb"/>
<rect x="533" y="751" width="5" height="7" fill="#b2dfdb"/>
<rect x="539" y="755" width="5" height="3" fill="#b2dfdb"/>
<rect x="545" y="757" width="6" height="7" fill="#ff5252"/>
<rect x="552" y="757" width="5" height="13" fill="#ff5252"/>
<rect x="558" y="757" width="5" height="15" fill="#ff5252"/>
<rect x="564" y="757" width="5" height="7" fill="#ffcdd2"/>
<rect x="570" y="757" width="5" height="10" fill="#ff5252"/>
<rect x="576" y="757" width="5" height="16" fill="#ff5252"/>
<rect x="582" y="757" width="5" height="17" fill="#ff5252"/>
<rect x="588" y="757" width="5" height="21" fill="#ff5252"/>
<rect x="594" y="757" width="6" height="21" fill="#ff5252"/>
<rect x="601" y="757" width="5" height="19" fill="#ffcdd2"/>
<rect x="607" y="757" width="5" height="11" fill="#ffcdd2"/>
<rect x="613" y="757" width="5" height="12" fill="#ff5252"/>
<rect x="619" y="757" width="5" height="14" fill="#ff5252"/>
<rect x="625" y="757" width="5" height="20" fill="#ff5252"/>
<rect x="631" y="757" width="5" height="25" fill="#ff5252"/>
<rect x="637" y="757" width="5" height="23" fill="#ffcdd2"/>
<rect x="643" y="757" width="5" height="22" fill="#ffcdd2"/>
<rect x="649" y="757" width="6" height="12" fill="#ffcdd2"/>
<rect x="656" y="757" width="5" height="9" fill="#ffcdd2"/>
<rect x="662" y="757" width="5" height="8" fill="#ffcdd2"/>
<rect x="668" y="757" width="5" height="4" fill="#ffcdd2"/>
<rect x="674" y="757" width="5" height="3" fill="#ffcdd2"/>
<rect x="680" y="757" width="5" height="5" fill="#ff5252"/>
<rect x="686" y="757" width="5" height="6" fill="#ff5252"/>
<rect x="692" y="757" width="5" height="4" fill="#ffcdd2"/>
<rect x="698" y="751" width="6" height="7" fill="#26a69a"/>
<rect x="705" y="734" width="5" height="24" fill="#26a69a"/>
<rect x="711" y="741" width="5" height="17" fill="#b2dfdb"/>
<rect x="717" y="753" width="5" height="5" fill="#b2dfdb"/>
<rect x="723" y="757" width="5" height="11" fill="#ff5252"/>
<rect x="729" y="757" width="5" height="16" fill="#ff5252"/>
<rect x="735" y="757" width="5" height="18" fill="#ff5252"/>
<rect x="741" y="757" width="5" height="17" fill="#ffcdd2"/>
<rect x="747" y="757" width="6" height="19" fill="#ff5252"/>
<rect x="754" y="757" width="5" height="17" fill="#ffcdd2"/>
<rect x="760" y="757" width="5" height="18" fill="#ff5252"/>
<rect x="766" y="757" width="5" height="18" fill="#ffcdd2"/>
<rect x="772" y="757" width="5" height="16" fill="#ffcdd2"/>
<rect x="778" y="757" width="5" height="15" fill="#ffcdd2"/>
<rect x="784" y="757" width="5" height="19" fill="#ff5252"/>
<rect x="790" y="757" width="5" height="24" fill="#ff5252"/>
<rect x="796" y="757" width="6" height="27" fill="#ff5252"/>
<rect x="803" y="757" width="5" height="28" fill="#ff5252"/>
<rect x="809" y="757" width="5" height="27" fill="#ffcdd2"/>
<rect x="815" y="757" width="5" height="27" fill="#ff5252"/>
<rect x="821" y="757" width="5" height="25" fill="#ffcdd2"/>
<rect x="827" y="757" width="5" height="21" fill="#ffcdd2"/>
<rect x="833" y="757" width="5" height="13" fill="#ffcdd2"/>
<rect x="839" y="757" width="5" height="6" fill="#ffcdd2"/>
<rect x="845" y="752" width="6" height="6" fill="#26a69a"/>
<rect x="852" y="753" width="5" height="5" fill="#b2dfdb"/>
<rect x="858" y="748" width="5" height="10" fill="#26a69a"/>
<rect x="864" y="751" width="5" height="7" fill="#b2dfdb"/>
<rect x="870" y="754" width="5" height="4" fill="#b2dfdb"/>
<rect x="876" y="757" width="5" height="1" fill="#b2dfdb"/>
<rect x="882" y="755" width="5" height="3" fill="#26a69a"/>
<rect x="888" y="752" width="5" height="6" fill="#26a69a"/>
<rect x="894" y="747" width="6" height="11" fill="#26a69a"/>
<rect x="901" y="746" width="5" height="12" fill="#26a69a"/>
<rect x="907" y="748" width="5" height="10" fill="#b2dfdb"/>
<rect x="913" y="751" width="5" height="7" fill="#b2dfdb"/>
<rect x="919" y="751" width="5" height="7" fill="#26a69a"/>
<rect x="925" y="750" width="5" height="8" fill="#26a69a"/>
<rect x="931" y="750" width="5" height="8" fill="#26a69a"/>
<rect x="937" y="748" width="5" height="10" fill="#26a69a"/>
<rect x="943" y="747" width="6" height="11" fill="#26a69a"/>
<rect x="950" y="745" width="5" height="13" fill="#26a69a"/>
<rect x="956" y="741" width="5" height="17" fill="#26a69a"/>
<rect x="962" y="740" width="5" height="18" fill="#26a69a"/>
<rect x="968" y="735" width="5" height="23" fill="#26a69a"/>
<rect x="974" y="734" width="5" height="24" fill="#26a69a"/>
<rect x="980" y="730" width="5" height="28" fill="#26a69a"/>
<rect x="986" y="731" width="5" height="27" fill="#b2dfdb"/>
<rect x="992" y="734" width="5" height="24" fill="#b2dfdb"/>
<rect x="998" y="736" width="6" height="22" fill="#b2dfdb"/>
<rect x="1005" y="735" width="5" height="23" fill="#26a69a"/>
<rect x="1011" y="734" width="5" height="24" fill="#26a69a"/>
<rect x="1017" y="741" width="5" height="17" fill="#b2dfdb"/>
<rect x="1023" y="751" width="5" height="7" fill="#b2dfdb"/>
<rect x="1029" y="757" width="5" height="1" fill="#ff5252"/>
<rect x="1035" y="757" width="5" height="5" fill="#ff5252"/>
<rect x="1041" y="757" width="5" height="14" fill="#ff5252"/>
<rect x="1047" y="757" width="6" height="16" fill="#ff5252"/>
<rect x="1054" y="757" width="5" height="17" fill="#ff5252"/>
<rect x="1060" y="757" width="5" height="16" fill="#ffcdd2"/>
<rect x="1066" y="757" width="5" height="16" fill="#ffcdd2"/>
<rect x="1072" y="757" width="5" height="15" fill="#ffcdd2"/>
<rect x="1078" y="757" width="5" height="14" fill="#ffcdd2"/>
<rect x="1084" y="757" width="5" height="13" fill="#ffcdd2"/>
<rect x="1090" y="757" width="5" height="15" fill="#ff5252"/>
<rect x="1096" y="757" width="6" height="19" fill="#ff5252"/>
<rect x="1103" y="757" width="5" height="21" fill="#ff5252"/>
<rect x="1109" y="757" width="5" height="21" fill="#ffcdd2"/>
<rect x="1115" y="757" width="5" height="15" fill="#ffcdd2"/>
<rect x="1121" y="757" width="5" height="10" fill="#ffcdd2"/>
<rect x="1127" y="757" width="5" height="4" fill="#ffcdd2"/>
<rect x="1133" y="757" width="5" height="4" fill="#ffcdd2"/>
<rect x="1139" y="757" width="5" height="4" fill="#ff5252"/>
<rect x="1145" y="757" width="6" height="7" fill="#ff5252"/>
<rect x="1152" y="757" width="5" height="7" fill="#ffcdd2"/>
<rect x="1158" y="757" width="5" height="5" fill="#ffcdd2"/>
<rect x="1164" y="757" width="5" height="3" fill="#ffcdd2"/>
<rect x="1170" y="756" width="5" height="2" fill="#26a69a"/>
<rect x="1176" y="753" width="5" height="5" fill="#26a69a"/>
<rect x="1182" y="750" width="5" height="8" fill="#26a69a"/>
<rect x="1188" y="749" width="5" height="9" fill="#26a69a"/>
<rect x="1194" y="751" width="6" height="7" fill="#b2dfdb"/>
<rect x="1201" y="754" width="5" height="4" fill="#b2dfdb"/>
<rect x="1207" y="755" width="5" height="3" fill="#b2dfdb"/>
<rect x="1213" y="757" width="5" height="3" fill="#ff5252"/>
<rect x="1219" y="757" width="5" height="7" fill="#ff5252"/>
<rect x="1225" y="757" width="5" height="6" fill="#ffcdd2"/>
<rect x="1231" y="757" width="5" height="5" fill="#ffcdd2"/>
<rect x="1237" y="757" width="5" height="4" fill="#ffcdd2"/>
<rect x="1243" y="757" width="6" height="3" fill="#ffcdd2"/>
<rect x="1250" y="757" width="5" height="8" fill="#ff5252"/>
<rect x="1256" y="757" width="5" height="12" fill="#ff5252"/>
<rect x="1262" y="757" width="5" height="13" fill="#ff5252"/>
<rect x="1268" y="757" width="5" height="18" fill="#ff5252"/>
<rect x="1274" y="757" width="5" height="21" fill="#ff5252"/>
<rect x="1280" y="757" width="5" height="19" fill="#ffcdd2"/>
<rect x="1286" y="757" width="5" height="18" fill="#ffcdd2"/>
<rect x="1292" y="757" width="6" height="17" fill="#ffcdd2"/>
<rect x="1299" y="757" width="5" height="20" fill="#ff5252"/>
<rect x="1305" y="757" width="5" height="24" fill="#ff5252"/>
<rect x="1311" y="757" width="5" height="23" fill="#ffcdd2"/>
<rect x="1317" y="757" width="5" height="23" fill="#ffcdd2"/>
<rect x="1323" y="757" width="5" height="19" fill="#ffcdd2"/>
<rect x="1329" y="757" width="5" height="13" fill="#ffcdd2"/>
<rect x="1335" y="757" width="5" height="8" fill="#ffcdd2"/>
<rect x="1341" y="757" width="6" height="3" fill="#ffcdd2"/>
<rect x="1348" y="753" width="5" height="5" fill="#26a69a"/>
<rect x="1354" y="750" width="5" height="8" fill="#26a69a"/>
<rect x="1360" y="747" width="5" height="11" fill="#26a69a"/>
<rect x="1366" y="743" width="5" height="15" fill="#26a69a"/>
<rect x="1372" y="740" width="5" height="18" fill="#26a69a"/>
<rect x="1378" y="740" width="5" height="18" fill="#26a69a"/>
<rect x="1384" y="740" width="5" height="18" fill="#b2dfdb"/>
<rect x="1390" y="742" width="5" height="16" fill="#b2dfdb"/>
<rect x="1396" y="743" width="6" height="15" fill="#b2dfdb"/>
<rect x="1403" y="745" width="5" height="13" fill="#b2dfdb"/>
<rect x="1409" y="742" width="5" height="16" fill="#26a69a"/>
<rect x="1415" y="738" width="5" height="20" fill="#26a69a"/>
<rect x="1421" y="737" width="5" height="21" fill="#26a69a"/>
<rect x="1427" y="738" width="5" height="20" fill="#b2dfdb"/>
<rect x="1433" y="739" width="5" height="19" fill="#b2dfdb"/>
<rect x="1439" y="740" width="5" height="18" fill="#b2dfdb"/>
<rect x="1445" y="746" width="6" height="12" fill="#b2dfdb"/>
<rect x="1452" y="751" width="5" height="7" fill="#b2dfdb"/>
<rect x="1458" y="756" width="5" height="2" fill="#b2dfdb"/>
<rect x="1464" y="757" width="5" height="2" fill="#ff5252"/>
<rect x="1470" y="757" width="5" height="1" fill="#ffcdd2"/>
<rect x="1476" y="757" width="5" height="4" fill="#ff5252"/>
<rect x="1482" y="757" width="5" height="5" fill="#ff5252"/>
<rect x="1488" y="757" width="5" height="4" fill="#ffcdd2"/>
<rect x="1494" y="757" width="6" height="5" fill="#ff5252"/>
<rect x="1501" y="757" width="5" height="7" fill="#ff5252"/>
<rect x="1507" y="757" width="5" height="7" fill="#ff5252"/>
<rect x="1513" y="757" width="5" height="11" fill="#ff5252"/>
<rect x="1519" y="757" width="5" height="13" fill="#ff5252"/>
<rect x="1525" y="757" width="5" height="12" fill="#ffcdd2"/>
<rect x="1531" y="757" width="5" height="10" fill="#ffcdd2"/>
<rect x="1537" y="757" width="5" height="7" fill="#ffcdd2"/>
<rect x="1543" y="757" width="6" height="4" fill="#ffcdd2"/>
<rect x="1550" y="757" width="5" height="4" fill="#ffcdd2"/>
<rect x="1556" y="757" width="5" height="3" fill="#ffcdd2"/>
<rect x="1562" y="752" width="5" height="6" fill="#26a69a"/>
<rect x="1568" y="747" width="5" height="11" fill="#26a69a"/>
<rect x="1574" y="744" width="5" height="14" fill="#26a69a"/>
<rect x="1580" y="744" width="5" height="14" fill="#b2dfdb"/>
<rect x="1586" y="745" width="5" height="13" fill="#b2dfdb"/>
<rect x="1592" y="745" width="6" height="13" fill="#b2dfdb"/>
<rect x="1599" y="746" width="5" height="12" fill="#b2dfdb"/>
<rect x="1605" y="749" width="5" height="9" fill="#b2dfdb"/>
<rect x="1611" y="749" width="5" height="9" fill="#26a69a"/>
<rect x="1617" y="749" width="5" height="9" fill="#b2dfdb"/>
<rect x="1623" y="749" width="5" height="9" fill="#26a69a"/>
<rect x="1629" y="751" width="5" height="7" fill="#b2dfdb"/>
<rect x="1635" y="752" width="5" height="6" fill="#b2dfdb"/>
<rect x="1641" y="753" width="6" height="5" fill="#b2dfdb"/>
<rect x="1648" y="751" width="5" height="7" fill="#26a69a"/>
<rect x="1654" y="750" width="5" height="8" fill="#26a69a"/>
<rect x="1660" y="746" width="5" height="12" fill="#26a69a"/>
<rect x="1666" y="742" width="5" height="16" fill="#26a69a"/>
<rect x="1672" y="741" width="5" height="17" fill="#26a69a"/>
<rect x="1678" y="740" width="5" height="18" fill="#26a69a"/>
<rect x="1684" y="738" width="5" height="20" fill="#26a69a"/>
</g>
<line x1="10" y1="757.5" x2="1880" y2="757.5" stroke="#787b86" stroke-opacity="0.55" stroke-width="1" stroke-dasharray="5 6"/>
<polyline points="9.5,656.1 15.5,652.9 21.5,648.7 27.5,645.7 33.5,650.8 39.5,650.4 45.5,649.2 52.5,643.3 58.5,639.2 64.5,638.5 70.5,632.1 76.5,626.2 82.5,621.1 88.5,600.7 94.5,590.9 101.5,574.3 107.5,573.4 113.5,582.9 119.5,583.5 125.5,588.9 131.5,600.9 137.5,605.7 143.5,611.3 150.5,621.4 156.5,632.9 162.5,648.5 168.5,663.5 174.5,675.0 180.5,689.6 186.5,698.9 192.5,707.9 199.5,711.7 205.5,714.4 211.5,718.3 217.5,718.8 223.5,724.4 229.5,730.0 235.5,736.8 241.5,742.7 247.5,751.0 254.5,756.1 260.5,743.4 266.5,734.7 272.5,729.2 278.5,727.3 284.5,723.8 290.5,728.1 296.5,733.5 303.5,740.3 309.5,750.8 315.5,761.9 321.5,769.4 327.5,772.4 333.5,769.9 339.5,771.0 345.5,772.7 352.5,775.5 358.5,769.5 364.5,769.3 370.5,767.6 376.5,763.0 382.5,761.0 388.5,751.3 394.5,744.8 401.5,751.4 407.5,749.9 413.5,748.5 419.5,744.5 425.5,740.6 431.5,736.3 437.5,737.7 443.5,746.8 450.5,751.8 456.5,750.3 462.5,743.5 468.5,722.3 474.5,698.4 480.5,682.0 486.5,669.1 492.5,658.1 499.5,655.9 505.5,640.5 511.5,631.4 517.5,631.0 523.5,633.5 529.5,636.8 535.5,647.4 541.5,651.0 548.5,661.8 554.5,671.2 560.5,677.2 566.5,671.1 572.5,676.1 578.5,685.6 584.5,690.4 590.5,699.1 597.5,703.9 603.5,706.1 609.5,700.7 615.5,704.5 621.5,709.8 627.5,720.5 633.5,731.5 639.5,735.0 645.5,739.2 652.5,731.9 658.5,730.8 664.5,731.4 670.5,728.2 676.5,727.7 682.5,730.7 688.5,732.9 694.5,731.6 701.5,720.0 707.5,697.5 713.5,700.8 719.5,712.1 725.5,729.4 731.5,738.1 737.5,744.3 743.5,747.2 750.5,753.4 756.5,755.1 762.5,760.0 768.5,763.9 774.5,765.6 780.5,768.1 786.5,776.6 792.5,787.7 799.5,797.5 805.5,805.6 811.5,811.4 817.5,818.2 823.5,822.3 829.5,823.3 835.5,818.4 841.5,812.7 848.5,800.6 854.5,800.7 860.5,793.6 866.5,795.2 872.5,797.5 878.5,800.5 884.5,798.0 890.5,793.6 897.5,785.9 903.5,781.9 909.5,781.5 915.5,782.8 921.5,781.5 927.5,779.0 933.5,777.4 939.5,773.4 946.5,770.1 952.5,765.1 958.5,757.1 964.5,751.9 970.5,741.4 976.5,734.6 982.5,723.8 988.5,718.3 994.5,715.5 1001.5,712.1 1007.5,705.4 1013.5,698.5 1019.5,702.1 1025.5,711.3 1031.5,718.5 1037.5,723.5 1043.5,736.0 1050.5,742.0 1056.5,747.2 1062.5,750.1 1068.5,754.0 1074.5,756.7 1080.5,759.1 1086.5,760.8 1092.5,765.9 1099.5,774.1 1105.5,780.7 1111.5,785.4 1117.5,782.5 1123.5,780.3 1129.5,775.7 1135.5,777.0 1141.5,777.5 1148.5,781.8 1154.5,783.0 1160.5,781.8 1166.5,780.0 1172.5,775.4 1178.5,771.5 1184.5,766.8 1190.5,763.9 1197.5,764.5 1203.5,766.8 1209.5,767.4 1215.5,773.0 1221.5,778.6 1227.5,779.0 1233.5,779.2 1239.5,779.1 1246.5,778.8 1252.5,786.7 1258.5,794.6 1264.5,799.7 1270.5,808.8 1276.5,816.6 1282.5,818.9 1288.5,822.4 1295.5,825.6 1301.5,833.6 1307.5,842.5 1313.5,846.2 1319.5,850.9 1325.5,850.8 1331.5,847.1 1337.5,844.0 1344.5,839.6 1350.5,832.2 1356.5,827.1 1362.5,821.3 1368.5,813.5 1374.5,806.5 1380.5,802.4 1386.5,798.3 1392.5,796.8 1399.5,794.3 1405.5,793.3 1411.5,786.5 1417.5,777.8 1423.5,771.8 1429.5,768.1 1435.5,764.6 1441.5,761.5 1448.5,764.9 1454.5,768.6 1460.5,773.1 1466.5,776.3 1472.5,776.1 1478.5,779.6 1484.5,781.8 1490.5,781.5 1497.5,783.5 1503.5,787.0 1509.5,788.7 1515.5,795.3 1521.5,800.5 1527.5,802.0 1533.5,802.0 1539.5,800.2 1546.5,798.1 1552.5,799.0 1558.5,798.7 1564.5,789.8 1570.5,782.6 1576.5,776.6 1582.5,773.6 1588.5,771.8 1595.5,768.5 1601.5,766.4 1607.5,767.1 1613.5,765.0 1619.5,763.0 1625.5,760.9 1631.5,761.4 1637.5,761.2 1644.5,761.2 1650.5,757.6 1656.5,754.8 1662.5,747.9 1668.5,739.7 1674.5,734.2 1680.5,729.7 1686.5,723.7" fill="none" stroke="#2962ff" stroke-width="1.05" stroke-linejoin="round"/>
<polyline points="9.5,681.5 15.5,675.8 21.5,670.4 27.5,665.4 33.5,662.5 39.5,660.1 45.5,657.9 52.5,655.0 58.5,651.9 64.5,649.2 70.5,645.8 76.5,641.9 82.5,637.8 88.5,630.4 94.5,622.5 101.5,612.9 107.5,605.0 113.5,600.6 119.5,597.2 125.5,595.6 131.5,596.7 137.5,598.5 143.5,601.1 150.5,605.2 156.5,610.7 162.5,618.3 168.5,627.4 174.5,636.9 180.5,647.5 186.5,657.8 192.5,667.8 199.5,676.6 205.5,684.2 211.5,691.1 217.5,696.6 223.5,702.2 229.5,707.8 235.5,713.6 241.5,719.5 247.5,725.8 254.5,731.9 260.5,734.2 266.5,734.7 272.5,733.9 278.5,733.0 284.5,731.5 290.5,730.8 296.5,731.3 303.5,733.1 309.5,736.6 315.5,741.7 321.5,747.2 327.5,752.2 333.5,755.7 339.5,758.8 345.5,761.5 352.5,764.3 358.5,765.3 364.5,766.1 370.5,766.4 376.5,765.7 382.5,764.7 388.5,762.0 394.5,758.5 401.5,757.1 407.5,755.6 413.5,754.2 419.5,752.2 425.5,750.4 431.5,748.0 437.5,746.4 443.5,746.5 450.5,747.5 456.5,748.1 462.5,747.2 468.5,742.0 474.5,733.0 480.5,722.6 486.5,711.7 492.5,700.7 499.5,691.5 505.5,681.1 511.5,672.0 517.5,664.6 523.5,659.2 529.5,655.5 535.5,654.1 541.5,653.7 548.5,655.6 554.5,659.0 560.5,663.0 566.5,664.9 572.5,666.9 578.5,670.4 584.5,674.1 590.5,678.9 597.5,683.6 603.5,687.9 609.5,690.5 615.5,693.3 621.5,696.6 627.5,701.3 633.5,707.3 639.5,712.8 645.5,718.0 652.5,720.6 658.5,722.6 664.5,724.2 670.5,725.0 676.5,725.5 682.5,726.5 688.5,727.7 694.5,728.4 701.5,726.7 707.5,721.2 713.5,717.5 719.5,716.8 725.5,719.2 731.5,722.9 737.5,727.1 743.5,731.0 750.5,735.2 756.5,738.9 762.5,742.8 768.5,746.7 774.5,750.4 780.5,753.9 786.5,758.4 792.5,764.5 799.5,771.3 805.5,778.4 811.5,785.2 817.5,792.0 823.5,798.1 829.5,803.1 835.5,806.2 841.5,807.5 848.5,806.3 854.5,805.4 860.5,803.3 866.5,801.9 872.5,801.2 878.5,801.2 884.5,800.7 890.5,799.3 897.5,796.6 903.5,793.6 909.5,791.2 915.5,789.5 921.5,788.2 927.5,786.7 933.5,785.1 939.5,783.1 946.5,780.8 952.5,777.8 958.5,773.8 964.5,769.6 970.5,764.1 976.5,758.3 982.5,751.5 988.5,745.0 994.5,739.2 1001.5,733.8 1007.5,728.1 1013.5,722.2 1019.5,718.9 1025.5,718.0 1031.5,718.2 1037.5,719.3 1043.5,722.8 1050.5,726.8 1056.5,731.0 1062.5,734.9 1068.5,738.8 1074.5,742.5 1080.5,745.9 1086.5,748.6 1092.5,751.7 1099.5,755.9 1105.5,760.5 1111.5,765.2 1117.5,768.3 1123.5,771.1 1129.5,772.5 1135.5,773.8 1141.5,774.3 1148.5,775.6 1154.5,776.8 1160.5,777.6 1166.5,777.8 1172.5,777.1 1178.5,776.2 1184.5,774.5 1190.5,772.6 1197.5,771.2 1203.5,770.5 1209.5,770.1 1215.5,770.8 1221.5,772.4 1227.5,773.8 1233.5,775.0 1239.5,775.9 1246.5,776.6 1252.5,779.5 1258.5,783.4 1264.5,787.5 1270.5,791.6 1276.5,796.4 1282.5,800.7 1288.5,805.2 1295.5,809.4 1301.5,814.4 1307.5,819.3 1313.5,824.0 1319.5,828.7 1325.5,832.5 1331.5,834.9 1337.5,836.8 1344.5,837.4 1350.5,836.9 1356.5,834.8 1362.5,832.0 1368.5,828.2 1374.5,824.2 1380.5,820.1 1386.5,816.0 1392.5,812.5 1399.5,809.0 1405.5,806.0 1411.5,802.2 1417.5,797.5 1423.5,792.5 1429.5,787.8 1435.5,783.3 1441.5,779.2 1448.5,776.6 1454.5,775.3 1460.5,774.8 1466.5,775.1 1472.5,775.4 1478.5,776.4 1484.5,777.6 1490.5,778.3 1497.5,779.3 1503.5,780.8 1509.5,782.5 1515.5,785.1 1521.5,788.3 1527.5,790.8 1533.5,792.8 1539.5,794.0 1546.5,794.9 1552.5,795.8 1558.5,796.5 1564.5,795.5 1570.5,793.3 1576.5,790.3 1582.5,787.3 1588.5,784.5 1595.5,781.2 1601.5,778.1 1607.5,775.8 1613.5,773.7 1619.5,771.7 1625.5,769.6 1631.5,768.1 1637.5,766.9 1644.5,765.9 1650.5,764.3 1656.5,762.5 1662.5,759.6 1668.5,755.4 1674.5,750.9 1680.5,747.4 1686.5,743.4" fill="none" stroke="#ff6d00" stroke-width="1.05" stroke-linejoin="round"/>
</g>
<text x="10.2" y="19.5" font-size="12" fill="#131722" textLength="392.4" lengthAdjust="spacingAndGlyphs" stroke="#131722" stroke-width="0.18">gitongalennox7 published on TradingView.com, Jun 10, 2025 05:36 UTC-4</text>
<text x="17.8" y="46.0" font-size="12" fill="#131722" textLength="179.8" lengthAdjust="spacingAndGlyphs" stroke="#131722" stroke-width="0.18">PENGU / TetherUS · 4h · BINANCE</text>
<text x="206.0" y="46.0" font-size="12" fill="#131722" textLength="7.7" lengthAdjust="spacingAndGlyphs" stroke="#131722" stroke-width="0.18">O</text>
<text x="214.4" y="46.0" font-size="12" fill="#089981" textLength="47.7" lengthAdjust="spacingAndGlyphs" stroke="#089981" stroke-width="0.18">0.011049</text>
<text x="269.8" y="46.0" font-size="12" fill="#131722" textLength="6.7" lengthAdjust="spacingAndGlyphs" stroke="#131722" stroke-width="0.18">H</text>
<text x="277.6" y="46.0" font-size="12" fill="#089981" textLength="47.7" lengthAdjust="spacingAndGlyphs" stroke="#089981" stroke-width="0.18">0.011426</text>
<text x="333.7" y="46.0" font-size="12" fill="#131722" textLength="5.0" lengthAdjust="spacingAndGlyphs" stroke="#131722" stroke-width="0.18">L</text>
<text x="339.4" y="46.0" font-size="12" fill="#089981" textLength="47.0" lengthAdjust="spacingAndGlyphs" stroke="#089981" stroke-width="0.18">0.011001</text>
<text x="395.5" y="46.0" font-size="12" fill="#131722" textLength="6.4" lengthAdjust="spacingAndGlyphs" stroke="#131722" stroke-width="0.18">C</text>
<text x="402.2" y="46.0" font-size="12" fill="#089981" textLength="47.4" lengthAdjust="spacingAndGlyphs" stroke="#089981" stroke-width="0.18">0.011396</text>
<text x="458.0" y="46.0" font-size="12" fill="#089981" textLength="103.2" lengthAdjust="spacingAndGlyphs" stroke="#089981" stroke-width="0.18">+0.000348 (+3.15%)</text>
<rect x="1884.5" y="31.5" width="66" height="27" rx="4" fill="#fff" stroke="#f0f1f3" stroke-width="1"/>
<text x="1893.0" y="49.3" font-size="12" fill="#131722" textLength="28.0" lengthAdjust="spacingAndGlyphs" stroke="#131722" stroke-width="0.18">USDT</text>
<text x="1888.8" y="95.0" font-size="12" fill="#131722" textLength="48.6" lengthAdjust="spacingAndGlyphs" stroke="#131722" stroke-width="0.18">0.017500</text>
<text x="1888.8" y="141.8" font-size="12" fill="#131722" textLength="48.6" lengthAdjust="spacingAndGlyphs" stroke="#131722" stroke-width="0.18">0.016500</text>
<text x="1888.8" y="193.1" font-size="12" fill="#131722" textLength="48.6" lengthAdjust="spacingAndGlyphs" stroke="#131722" stroke-width="0.18">0.015500</text>
<text x="1888.8" y="247.0" font-size="12" fill="#131722" textLength="48.6" lengthAdjust="spacingAndGlyphs" stroke="#131722" stroke-width="0.18">0.014500</text>
<text x="1888.8" y="304.3" font-size="12" fill="#131722" textLength="48.6" lengthAdjust="spacingAndGlyphs" stroke="#131722" stroke-width="0.18">0.013500</text>
<text x="1888.8" y="335.2" font-size="12" fill="#131722" textLength="48.6" lengthAdjust="spacingAndGlyphs" stroke="#131722" stroke-width="0.18">0.013000</text>
<text x="1888.8" y="366.3" font-size="12" fill="#131722" textLength="48.6" lengthAdjust="spacingAndGlyphs" stroke="#131722" stroke-width="0.18">0.012500</text>
<text x="1888.8" y="406.1" font-size="12" fill="#131722" textLength="48.6" lengthAdjust="spacingAndGlyphs" stroke="#131722" stroke-width="0.18">0.011900</text>
<text x="1888.8" y="491.3" font-size="12" fill="#131722" textLength="48.6" lengthAdjust="spacingAndGlyphs" stroke="#131722" stroke-width="0.18">0.010700</text>
<text x="1888.8" y="522.2" font-size="12" fill="#131722" textLength="48.6" lengthAdjust="spacingAndGlyphs" stroke="#131722" stroke-width="0.18">0.010300</text>
<text x="1888.8" y="553.2" font-size="12" fill="#131722" textLength="48.6" lengthAdjust="spacingAndGlyphs" stroke="#131722" stroke-width="0.18">0.009900</text>
<text x="1888.8" y="587.2" font-size="12" fill="#131722" textLength="48.6" lengthAdjust="spacingAndGlyphs" stroke="#131722" stroke-width="0.18">0.009500</text>
<text x="1888.8" y="617.4" font-size="12" fill="#131722" textLength="48.6" lengthAdjust="spacingAndGlyphs" stroke="#131722" stroke-width="0.18">0.009150</text>
<text x="1888.8" y="647.8" font-size="12" fill="#131722" textLength="48.6" lengthAdjust="spacingAndGlyphs" stroke="#131722" stroke-width="0.18">0.008810</text>
<text x="1888.8" y="697.6" font-size="12" fill="#131722" textLength="48.5" lengthAdjust="spacingAndGlyphs" stroke="#131722" stroke-width="0.18">0.000500</text>
<text x="1889.3" y="823.9" font-size="12" fill="#131722" textLength="54.6" lengthAdjust="spacingAndGlyphs" stroke="#131722" stroke-width="0.18">−0.000500</text>
<path d="M1881 202H1941Q1943 202 1943 204V217Q1943 219 1941 219H1881Z" fill="#2962ff"/>
<text x="1888.8" y="214.9" font-size="12" fill="#fff" textLength="47.8" lengthAdjust="spacingAndGlyphs" font-weight="bold">0.015091</text>
<path d="M1881 556H1941Q1943 556 1943 558V571Q1943 573 1941 573H1881Z" fill="#2962ff"/>
<text x="1888.8" y="569.0" font-size="12" fill="#fff" textLength="47.8" lengthAdjust="spacingAndGlyphs" font-weight="bold">0.009726</text>
<path d="M1881 428H1941Q1943 428 1943 430V457Q1943 459 1941 459H1881Z" fill="#089981"/>
<text x="1888.9" y="440.5" font-size="12" fill="#fff" textLength="48.3" lengthAdjust="spacingAndGlyphs" font-weight="bold">0.011396</text>
<text x="1888.9" y="454.9" font-size="12" fill="#fff" textLength="46.4" lengthAdjust="spacingAndGlyphs" fill-opacity="0.8">02:23:34</text>
<path d="M1809 428H1880V445H1809Q1807 445 1807 443V430Q1807 428 1809 428Z" fill="#089981"/>
<text x="1811.7" y="440.7" font-size="12" fill="#fff" textLength="64.3" lengthAdjust="spacingAndGlyphs" stroke="#fff" stroke-width="0.45">PENGUUSDT</text>
<path d="M1881 713H1941Q1943 713 1943 715V728Q1943 730 1941 730H1881Z" fill="#2962ff"/>
<text x="1888.8" y="725.8" font-size="12" fill="#fff" textLength="48.5" lengthAdjust="spacingAndGlyphs" font-weight="bold">0.000262</text>
<path d="M1881 730H1941Q1943 730 1943 732V745Q1943 747 1941 747H1881Z" fill="#26a69a"/>
<text x="1888.8" y="742.9" font-size="12" fill="#fff" textLength="48.5" lengthAdjust="spacingAndGlyphs" font-weight="bold">0.000154</text>
<path d="M1881 747H1941Q1943 747 1943 749V762Q1943 764 1941 764H1881Z" fill="#ff6d00"/>
<text x="1888.8" y="759.6" font-size="12" fill="#fff" textLength="48.5" lengthAdjust="spacingAndGlyphs" font-weight="bold">0.000108</text>
<text x="27.0" y="862.2" font-size="12" fill="#131722" text-anchor="middle" stroke="#131722" stroke-width="0.18">26</text>
<text x="101.0" y="862.2" font-size="12" fill="#131722" text-anchor="middle" stroke="#131722" stroke-width="0.18">28</text>
<text x="211.0" y="862.2" font-size="12" fill="#131722" text-anchor="middle" stroke="#131722" stroke-width="0.35">May</text>
<text x="284.0" y="862.2" font-size="12" fill="#131722" text-anchor="middle" stroke="#131722" stroke-width="0.18">3</text>
<text x="358.0" y="862.2" font-size="12" fill="#131722" text-anchor="middle" stroke="#131722" stroke-width="0.18">5</text>
<text x="431.0" y="862.2" font-size="12" fill="#131722" text-anchor="middle" stroke="#131722" stroke-width="0.18">7</text>
<text x="505.0" y="862.2" font-size="12" fill="#131722" text-anchor="middle" stroke="#131722" stroke-width="0.18">9</text>
<text x="578.0" y="862.2" font-size="12" fill="#131722" text-anchor="middle" stroke="#131722" stroke-width="0.18">11</text>
<text x="652.0" y="862.2" font-size="12" fill="#131722" text-anchor="middle" stroke="#131722" stroke-width="0.18">13</text>
<text x="725.0" y="862.2" font-size="12" fill="#131722" text-anchor="middle" stroke="#131722" stroke-width="0.18">15</text>
<text x="799.0" y="862.2" font-size="12" fill="#131722" text-anchor="middle" stroke="#131722" stroke-width="0.18">17</text>
<text x="872.0" y="862.2" font-size="12" fill="#131722" text-anchor="middle" stroke="#131722" stroke-width="0.18">19</text>
<text x="946.0" y="862.2" font-size="12" fill="#131722" text-anchor="middle" stroke="#131722" stroke-width="0.18">21</text>
<text x="1019.0" y="862.2" font-size="12" fill="#131722" text-anchor="middle" stroke="#131722" stroke-width="0.18">23</text>
<text x="1092.0" y="862.2" font-size="12" fill="#131722" text-anchor="middle" stroke="#131722" stroke-width="0.18">25</text>
<text x="1166.0" y="862.2" font-size="12" fill="#131722" text-anchor="middle" stroke="#131722" stroke-width="0.18">27</text>
<text x="1239.0" y="862.2" font-size="12" fill="#131722" text-anchor="middle" stroke="#131722" stroke-width="0.18">29</text>
<text x="1350.0" y="862.2" font-size="12" fill="#131722" text-anchor="middle" stroke="#131722" stroke-width="0.35">Jun</text>
<text x="1423.0" y="862.2" font-size="12" fill="#131722" text-anchor="middle" stroke="#131722" stroke-width="0.18">3</text>
<text x="1497.0" y="862.2" font-size="12" fill="#131722" text-anchor="middle" stroke="#131722" stroke-width="0.18">5</text>
<text x="1570.0" y="862.2" font-size="12" fill="#131722" text-anchor="middle" stroke="#131722" stroke-width="0.18">7</text>
<text x="1644.0" y="862.2" font-size="12" fill="#131722" text-anchor="middle" stroke="#131722" stroke-width="0.18">9</text>
<text x="1717.0" y="862.2" font-size="12" fill="#131722" text-anchor="middle" stroke="#131722" stroke-width="0.18">11</text>
<text x="1790.0" y="862.2" font-size="12" fill="#131722" text-anchor="middle" stroke="#131722" stroke-width="0.18">13</text>
<text x="1864.0" y="862.2" font-size="12" fill="#131722" text-anchor="middle" stroke="#131722" stroke-width="0.18">15</text>
<text x="17.9" y="671.2" font-size="12" fill="#131722" textLength="110.9" lengthAdjust="spacingAndGlyphs" stroke="#131722" stroke-width="0.18">MACD (12, 26, close)</text>
<text x="136.6" y="671.2" font-size="12" fill="#26a69a" textLength="47.8" lengthAdjust="spacingAndGlyphs" stroke="#26a69a" stroke-width="0.18">0.000154</text>
<text x="192.6" y="671.2" font-size="12" fill="#2962ff" textLength="47.4" lengthAdjust="spacingAndGlyphs" stroke="#2962ff" stroke-width="0.18">0.000262</text>
<text x="248.4" y="671.2" font-size="12" fill="#ff6d00" textLength="47.4" lengthAdjust="spacingAndGlyphs" stroke="#ff6d00" stroke-width="0.18">0.000108</text>
<text x="1058.2" y="197.7" font-size="14" fill="#2962ff" textLength="131.5" lengthAdjust="spacingAndGlyphs" stroke="#2962ff" stroke-width="0.18">True Resistance Zone</text>
<g fill="#131722"><path d="M10.1 884.2H18V893.6H13.7V887.8H10.1Z"/><circle cx="20.95" cy="885.95" r="1.75"/><path d="M24.1 884.2H29.6L26 893.6H21.1Z"/></g>
<text x="33.5" y="893.6" font-size="12.4" fill="#131722" textLength="69.6" lengthAdjust="spacingAndGlyphs" stroke="#131722" stroke-width="0.3">TradingView</text>
</svg></body></html>
